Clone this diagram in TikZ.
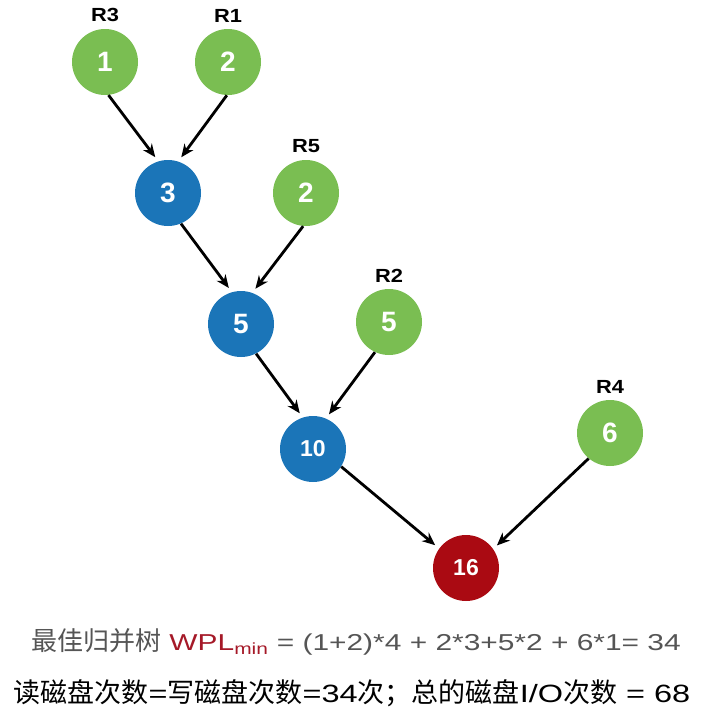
\documentclass[tikz,border=0pt]{standalone}
\usepackage{fontspec}
\setmainfont{Liberation Sans}
\newfontfamily\cjk{Noto Sans CJK SC}
\newfontfamily\widesans{Liberation Sans}[FakeStretch=1.3]
\newfontfamily\labelsans{Liberation Sans}[FakeStretch=1.15]
\usetikzlibrary{arrows.meta}
\definecolor{leafgreen}{RGB}{122,190,82}
\definecolor{mergeblue}{RGB}{27,117,184}
\definecolor{rootred}{RGB}{170,10,18}
\definecolor{wplred}{RGB}{165,25,40}
\definecolor{textgray}{RGB}{85,85,85}

\begin{document}
\begin{tikzpicture}[x=1pt, y=-1pt, >={Stealth[length=13pt, width=11pt]}, semithick]
  \tikzset{
    ball/.style={circle, minimum size=66pt, inner sep=0pt, text=white, font=\bfseries\fontsize{28}{28}\selectfont},
    leaf/.style={ball, fill=leafgreen},
    merge/.style={ball, fill=mergeblue},
    root/.style={ball, fill=rootred, font=\bfseries\fontsize{23}{23}\selectfont},
    run/.style={label={[font=\labelsans\bfseries\fontsize{19}{19}\selectfont, label distance=3pt]above:#1}},
    flow/.style={->, line width=2.8pt, shorten >=5pt}
  }
  \useasboundingbox (0,0) rectangle (726,710);
  % leaves = runs, inner nodes = merges
  \node[leaf, run=R3] (r3) at (105,62) {1};
  \node[leaf, run=R1] (r1) at (228,62) {2};
  \node[merge] (m3) at (168,193) {3};
  \node[leaf, run=R5] (r5) at (306,193) {2};
  \node[merge] (m5) at (241,324) {5};
  \node[leaf, run=R2] (r2) at (389,322) {5};
  \node[merge, font=\bfseries\fontsize{23}{23}\selectfont] (m10) at (313,449) {10};
  \node[leaf, run=R4] (r4) at (610,433) {6};
  \node[root] (m16) at (466,568) {16};
  \path[flow] (r3.-84) edge (m3.107) (r1.-92) edge (m3.72)
    (m3.-67) edge (m5.106) (r5.-95) edge (m5.70)
    (m5.-63) edge (m10.108) (r2.-115) edge (m10.67)
    (m10.-32) edge (m16.144) (r4.-130) edge (m16.35);
  % weighted path length
  \node[text=textgray, font=\widesans\fontsize{23}{27}\selectfont] (wpl) at (356,642)
    {{\cjk\fontsize{26}{27}\selectfont 最佳归并树} \textcolor{wplred}{WPL\textsubscript{min}} = (1+2)*4 + 2*3+5*2 + 6*1= 34};
  \node[font=\widesans\fontsize{25}{28}\selectfont] (io) at (352,693)
    {{\cjk\fontsize{27}{28}\selectfont 读磁盘次数}={\cjk\fontsize{27}{28}\selectfont 写磁盘次数}=34{\cjk\fontsize{27}{28}\selectfont 次；总的磁盘}I/O{\cjk\fontsize{27}{28}\selectfont 次数} = 68};
\end{tikzpicture}
\end{document}
